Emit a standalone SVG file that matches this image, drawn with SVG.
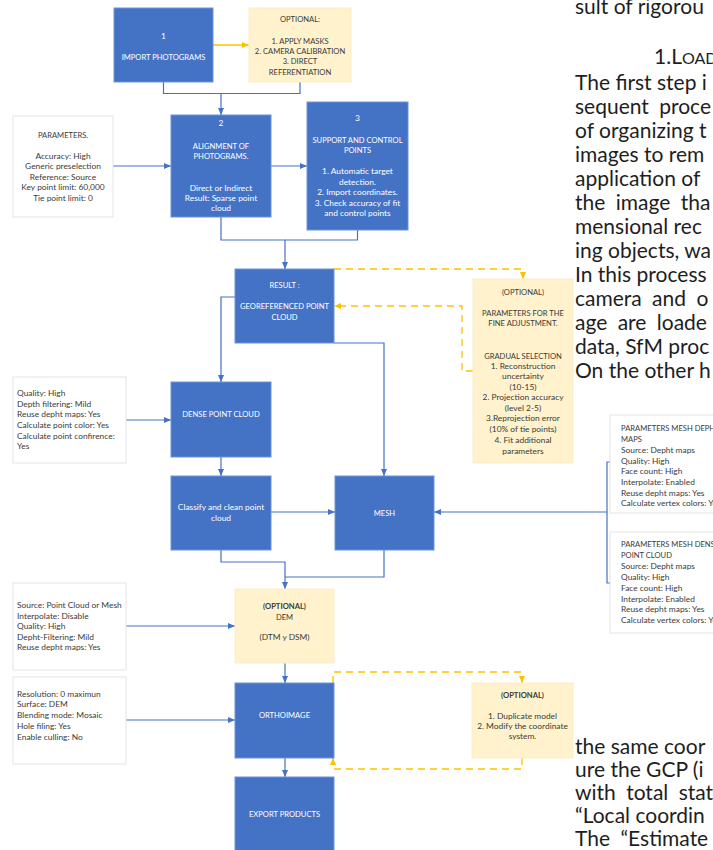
<svg xmlns="http://www.w3.org/2000/svg" width="713" height="850" viewBox="0 0 713 850">
<defs>
<style>
.b{fill:#4472C4;stroke:#6d93d8;stroke-width:1}
.y{fill:#FFF2CC;stroke:#fbeec6;stroke-width:1}
.p{fill:#fff;stroke:#e4e4e4;stroke-width:1}
text{font-family:Lato,"Liberation Sans",sans-serif}
.w{fill:#fff;font-size:8.4px;text-anchor:middle}
.k{fill:#3a3a3a;font-size:8.4px;text-anchor:middle}
.kl{fill:#3a3a3a;font-size:8.4px}
.u{font-size:7.6px}
.bd{font-weight:bold}
.pg{fill:#1e1e1e;font-size:21px}
.ws{word-spacing:5px}
.c{fill:none;stroke:#4472C4;stroke-width:1.2}
.ca{marker-end:url(#ab)}
.cy{fill:none;stroke:#FFC000;stroke-width:1.3;stroke-dasharray:7 5;marker-end:url(#ay)}
.cs{fill:none;stroke:#FFC000;stroke-width:1.6;marker-end:url(#ay)}
</style>
<marker id="ab" markerUnits="userSpaceOnUse" markerWidth="7" markerHeight="6" viewBox="0 0 7 6" refX="7" refY="3" orient="auto"><path d="M0,0L7,3L0,6z" fill="#4472C4"/></marker>
<marker id="ay" markerUnits="userSpaceOnUse" markerWidth="7" markerHeight="6" viewBox="0 0 7 6" refX="7" refY="3" orient="auto"><path d="M0,0L7,3L0,6z" fill="#FFC000"/></marker>
</defs>
<rect width="713" height="850" fill="#fff"/>

<g id="connectors">
<path class="cs" d="M213,45H249"/>
<path class="c ca" d="M163.5,82V93.5H221V115"/>
<path class="c" d="M300,82V93.5H221"/>
<path class="c ca" d="M113,166H171"/>
<path class="c ca" d="M271,166H307"/>
<path class="c ca" d="M221,217V240H285V269"/>
<path class="c" d="M357.5,230V240H285"/>
<path class="cy" d="M334,269H523V279"/>
<path class="cy" d="M473,371H462V306H334"/>
<path class="c ca" d="M235,297H221V382"/>
<path class="c ca" d="M334,343H384V476"/>
<path class="c ca" d="M126,420H171"/>
<path class="c ca" d="M221,457V476"/>
<path class="c ca" d="M271,512H335"/>
<path class="c ca" d="M607,512H434"/>
<path class="c" d="M612,462H607V583H612"/>
<path class="c ca" d="M221,550V562H285V589"/>
<path class="c" d="M384,550V577H285"/>
<path class="c ca" d="M126,626H235"/>
<path class="c ca" d="M285,663V683"/>
<path class="c ca" d="M126,720H235"/>
<path class="c ca" d="M285,758V777"/>
<path class="cy" d="M333,683V672H522V683"/>
<path class="cy" d="M522,758V769H333V758"/>
</g>

<g id="import">
<rect class="b" x="114" y="8" width="99" height="74"/>
<text class="w" x="163.5" y="39">1</text>
<text class="w u" x="163.5" y="60">IMPORT PHOTOGRAMS</text>
</g>

<g id="optional-import">
<rect class="y" x="249" y="8" width="102" height="74"/>
<text class="k u" x="300" y="22.3">OPTIONAL:</text>
<text class="k u" x="300" y="43.7">1. APPLY MASKS</text>
<text class="k u" x="300" y="53.9">2. CAMERA CALIBRATION</text>
<text class="k u" x="300" y="64.3">3. DIRECT</text>
<text class="k u" x="300" y="74.7">REFERENTIATION</text>
</g>

<g id="params-alignment">
<rect class="p" x="13" y="116" width="100" height="101"/>
<text class="k u" x="63" y="138">PARAMETERS.</text>
<text class="k" x="63" y="158.7">Accuracy: High</text>
<text class="k" x="63" y="169">Generic preselection</text>
<text class="k" x="63" y="179.7">Reference: Source</text>
<text class="k" x="63" y="190.3">Key point limit: 60,000</text>
<text class="k" x="63" y="201">Tie point limit: 0</text>
</g>

<g id="alignment">
<rect class="b" x="171" y="115" width="100" height="102"/>
<text class="w" x="221" y="126.3">2</text>
<text class="w u" x="221" y="148.7">ALIGNMENT OF</text>
<text class="w u" x="221" y="159">PHOTOGRAMS.</text>
<text class="w" x="221" y="190.7">Direct or Indirect</text>
<text class="w" x="221" y="201.3">Result: Sparse point</text>
<text class="w" x="221" y="211.3">cloud</text>
</g>

<g id="support-control">
<rect class="b" x="307" y="102" width="101" height="128"/>
<text class="w" x="357.5" y="121.3">3</text>
<text class="w u" x="357.5" y="143">SUPPORT AND CONTROL</text>
<text class="w u" x="357.5" y="153">POINTS</text>
<text class="w" x="357.5" y="174">1. Automatic target</text>
<text class="w" x="357.5" y="184.7">detection.</text>
<text class="w" x="357.5" y="195.3">2. Import coordinates.</text>
<text class="w" x="357.5" y="205.7">3. Check accuracy of fit</text>
<text class="w" x="357.5" y="216.3">and control points</text>
</g>

<g id="result">
<rect class="b" x="235" y="269" width="99" height="74"/>
<text class="w u" x="284.5" y="288">RESULT :</text>
<text class="w u" x="284.5" y="309">GEOREFERENCED POINT</text>
<text class="w u" x="284.5" y="319.7">CLOUD</text>
</g>

<g id="optional-fine">
<rect class="y" x="473" y="279" width="100" height="184"/>
<text class="k u" x="523" y="295.3">(OPTIONAL)</text>
<text class="k u" x="523" y="315.7">PARAMETERS FOR THE</text>
<text class="k u" x="523" y="326.3">FINE ADJUSTMENT.</text>
<text class="k u" x="523" y="358.7">GRADUAL SELECTION</text>
<text class="k" x="523" y="369">1. Reconstruction</text>
<text class="k" x="523" y="379.3">uncertainty</text>
<text class="k" x="523" y="389.7">(10-15)</text>
<text class="k" x="523" y="400.3">2. Projection accuracy</text>
<text class="k" x="523" y="410.7">(level 2-5)</text>
<text class="k" x="523" y="421.3">3.Reprojection error</text>
<text class="k" x="523" y="432">(10% of tie points)</text>
<text class="k" x="523" y="443">4. Fit additional</text>
<text class="k" x="523" y="453.7">parameters</text>
</g>

<g id="params-dense">
<rect class="p" x="13" y="377" width="113" height="86"/>
<text class="kl" x="17" y="396.3">Quality: High</text>
<text class="kl" x="17" y="406.7">Depth filtering: Mild</text>
<text class="kl" x="17" y="417.3">Reuse depht maps: Yes</text>
<text class="kl" x="17" y="428">Calculate point color: Yes</text>
<text class="kl" x="17" y="438.7">Calculate point confirence:</text>
<text class="kl" x="17" y="449">Yes</text>
</g>

<g id="dense">
<rect class="b" x="171" y="382" width="100" height="75"/>
<text class="w u" x="221" y="417.3">DENSE POINT CLOUD</text>
</g>

<g id="classify">
<rect class="b" x="171" y="476" width="100" height="74"/>
<text class="w" x="221" y="510.3">Classify and clean point</text>
<text class="w" x="221" y="521.3">cloud</text>
</g>

<g id="mesh">
<rect class="b" x="335" y="476" width="99" height="74"/>
<text class="w u" x="384.5" y="516">MESH</text>
</g>

<g id="params-mesh-depth">
<rect class="p" x="610" y="415" width="110" height="98"/>
<text class="kl u" x="621" y="431.4">PARAMETERS MESH DEPH</text>
<text class="kl u" x="621" y="442.1">MAPS</text>
<text class="kl" x="621" y="452.8">Source: Depht maps</text>
<text class="kl" x="621" y="463.5">Quality: High</text>
<text class="kl" x="621" y="474.2">Face count: High</text>
<text class="kl" x="621" y="484.9">Interpolate: Enabled</text>
<text class="kl" x="621" y="495.6">Reuse depht maps: Yes</text>
<text class="kl" x="621" y="506.3">Calculate vertex colors: Ye</text>
</g>

<g id="params-mesh-dense">
<rect class="p" x="610" y="532" width="110" height="101"/>
<text class="kl u" x="621" y="547">PARAMETERS MESH DENS</text>
<text class="kl u" x="621" y="557.9">POINT CLOUD</text>
<text class="kl" x="621" y="568.8">Source: Depht maps</text>
<text class="kl" x="621" y="579.7">Quality: High</text>
<text class="kl" x="621" y="590.6">Face count: High</text>
<text class="kl" x="621" y="601.5">Interpolate: Enabled</text>
<text class="kl" x="621" y="612.4">Reuse depht maps: Yes</text>
<text class="kl" x="621" y="623.3">Calculate vertex colors: Ye</text>
</g>

<g id="params-dem">
<rect class="p" x="13" y="583" width="113" height="87"/>
<text class="kl" x="17" y="608">Source: Point Cloud or Mesh</text>
<text class="kl" x="17" y="618.7">Interpolate: Disable</text>
<text class="kl" x="17" y="629">Quality: High</text>
<text class="kl" x="17" y="639.7">Depht-Filtering: Mild</text>
<text class="kl" x="17" y="650.3">Reuse depht maps: Yes</text>
</g>

<g id="dem">
<rect class="y" x="235" y="589" width="99" height="74"/>
<text class="k u bd" x="284.5" y="609">(OPTIONAL)</text>
<text class="k u" x="284.5" y="620">DEM</text>
<text class="k" x="284.5" y="640.3" font-size="8">(DTM y DSM)</text>
</g>

<g id="params-ortho">
<rect class="p" x="13" y="677" width="113" height="87"/>
<text class="kl" x="17" y="697">Resolution: 0 maximun</text>
<text class="kl" x="17" y="707.3">Surface: DEM</text>
<text class="kl" x="17" y="718">Blending mode: Mosaic</text>
<text class="kl" x="17" y="729">Hole filing: Yes</text>
<text class="kl" x="17" y="739.7">Enable culling: No</text>
</g>

<g id="orthoimage">
<rect class="b" x="235" y="683" width="99" height="75"/>
<text class="w u" x="284.5" y="718">ORTHOIMAGE</text>
</g>

<g id="optional-coordinates">
<rect class="y" x="472" y="683" width="101" height="75"/>
<text class="k u bd" x="522.5" y="698">(OPTIONAL)</text>
<text class="k" x="522.5" y="719">1. Duplicate model</text>
<text class="k" x="522.5" y="729">2. Modify the coordinate</text>
<text class="k" x="522.5" y="739">system.</text>
</g>

<g id="export">
<rect class="b" x="235" y="777" width="99" height="74"/>
<text class="w u" x="284.5" y="817.3">EXPORT PRODUCTS</text>
</g>

<g id="page-text">
<text class="pg" x="575" y="14">sult of rigorou</text>
<text class="pg" x="654" y="64">1.L<tspan font-size="16">OAD</tspan></text>
<text class="pg" x="575" y="90">The first step i</text>
<text class="pg ws" x="575" y="114">sequent proce</text>
<text class="pg" x="575" y="138">of organizing t</text>
<text class="pg" x="575" y="162">images to rem</text>
<text class="pg" x="575" y="186">application of</text>
<text class="pg ws" x="575" y="210">the image tha</text>
<text class="pg" x="575" y="234">mensional rec</text>
<text class="pg" x="575" y="258">ing objects, wa</text>
<text class="pg" x="575" y="282">In this process</text>
<text class="pg ws" x="575" y="306">camera and o</text>
<text class="pg ws" x="575" y="330">age are loade</text>
<text class="pg" x="575" y="354">data, SfM proc</text>
<text class="pg" x="575" y="378">On the other h</text>
<text class="pg" x="575" y="754">the same coor</text>
<text class="pg" x="575" y="777">ure the GCP (i</text>
<text class="pg ws" x="575" y="800">with total stat</text>
<text class="pg" x="575" y="823">“Local coordin</text>
<text class="pg ws" x="575" y="846">The “Estimate</text>
</g>
</svg>
